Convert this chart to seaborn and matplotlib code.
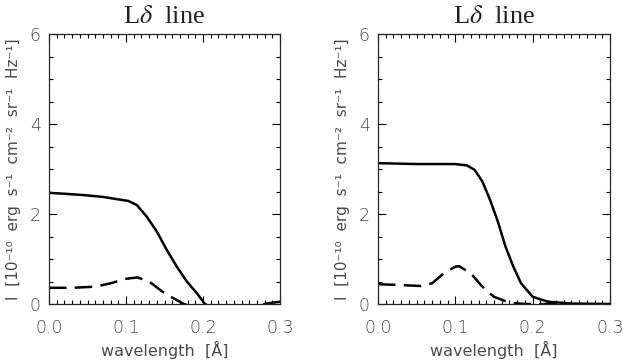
import numpy as np
import pandas as pd
import matplotlib
matplotlib.use("Agg")
import matplotlib.pyplot as plt
from matplotlib.ticker import MultipleLocator
import seaborn as sns

# ---- data ----
left_solid_x = [0.0, 0.02, 0.045, 0.07, 0.088, 0.103, 0.114, 0.127, 0.14, 0.153, 0.166, 0.179, 0.192, 0.2025, 0.22, 0.25, 0.27, 0.28, 0.29, 0.3]
left_solid_y = [2.47, 2.45, 2.42, 2.38, 2.33, 2.29, 2.2, 1.94, 1.61, 1.2, 0.83, 0.5, 0.24, 0.0, -0.15, -0.2, -0.1, 0.0, 0.03, 0.05]
left_dash_x = [0.0, 0.03, 0.06, 0.08, 0.1, 0.115, 0.13, 0.15, 0.175, 0.2, 0.25, 0.3]
left_dash_y = [0.36, 0.36, 0.385, 0.46, 0.56, 0.59, 0.5, 0.24, 0.0, -0.1, -0.1, -0.05]

right_solid_x = [0.0, 0.05, 0.1, 0.115, 0.125, 0.135, 0.145, 0.155, 0.165, 0.175, 0.185, 0.2, 0.22, 0.25, 0.3]
right_solid_y = [3.13, 3.11, 3.11, 3.08, 2.98, 2.72, 2.31, 1.83, 1.27, 0.83, 0.46, 0.16, 0.05, 0.01, 0.0]
right_dash_x = [0.0, 0.03, 0.055, 0.07, 0.085, 0.1, 0.105, 0.12, 0.135, 0.15, 0.17, 0.19, 0.3]
right_dash_y = [0.44, 0.42, 0.40, 0.46, 0.68, 0.83, 0.84, 0.68, 0.385, 0.16, 0.03, 0.0, -0.01]

title_text = "L$\\delta$  line"
xlabel_text = "wavelength  [Å]"
ylabel_text = "I  [10⁻¹⁰  erg  s⁻¹  cm⁻²  sr⁻¹  Hz⁻¹]"

sns.set_style("ticks")
plt.rcParams["font.family"] = ["DejaVu Sans"]
plt.rcParams["mathtext.fontset"] = "stix"

fig = plt.figure(figsize=(6.23, 3.6), dpi=100)
axL = fig.add_axes([49/623, 1-304/360, 231/623, 270/360])
axR = fig.add_axes([378/623, 1-304/360, 232/623, 270/360])

panels = [
    (axL, left_solid_x, left_solid_y, left_dash_x, left_dash_y),
    (axR, right_solid_x, right_solid_y, right_dash_x, right_dash_y),
]

tick_col = "#4a4a4a"
for ax, sx, sy, dx, dy in panels:
    sns.lineplot(x=sx, y=sy, ax=ax, color="black", lw=1.8, sort=False)
    sns.lineplot(x=dx, y=dy, ax=ax, color="black", lw=1.8, sort=False,
                 dashes=False).lines[-1].set_dashes([7, 3.3])
    ax.set_xlim(0, 0.3)
    ax.set_ylim(0, 6)
    ax.xaxis.set_major_locator(MultipleLocator(0.1))
    ax.xaxis.set_minor_locator(MultipleLocator(0.01))
    ax.yaxis.set_major_locator(MultipleLocator(2))
    ax.yaxis.set_minor_locator(MultipleLocator(0.5))
    ax.xaxis.set_major_formatter(matplotlib.ticker.FormatStrFormatter("%.1f"))
    ax.tick_params(which="both", direction="in", top=True, right=True,
                   colors="black", labelcolor=tick_col, width=0.8)
    ax.tick_params(which="major", length=6, labelsize=12.5)
    ax.tick_params(axis="x", which="major", pad=11)
    ax.tick_params(axis="y", which="major", pad=6)
    ax.tick_params(which="minor", length=3)
    for t in ax.get_xticklabels() + ax.get_yticklabels():
        t.set_fontweight("light")
    for sp in ax.spines.values():
        sp.set_linewidth(0.9)
    ax.set_title(title_text, family="Liberation Serif", fontsize=19, pad=8,
                 color="#222222")
    ax.set_xlabel(xlabel_text, fontsize=11.5, color=tick_col, labelpad=3)
    ax.set_ylabel(ylabel_text, fontsize=11, color=tick_col, labelpad=6)

fig.savefig("out.png", dpi=100)
